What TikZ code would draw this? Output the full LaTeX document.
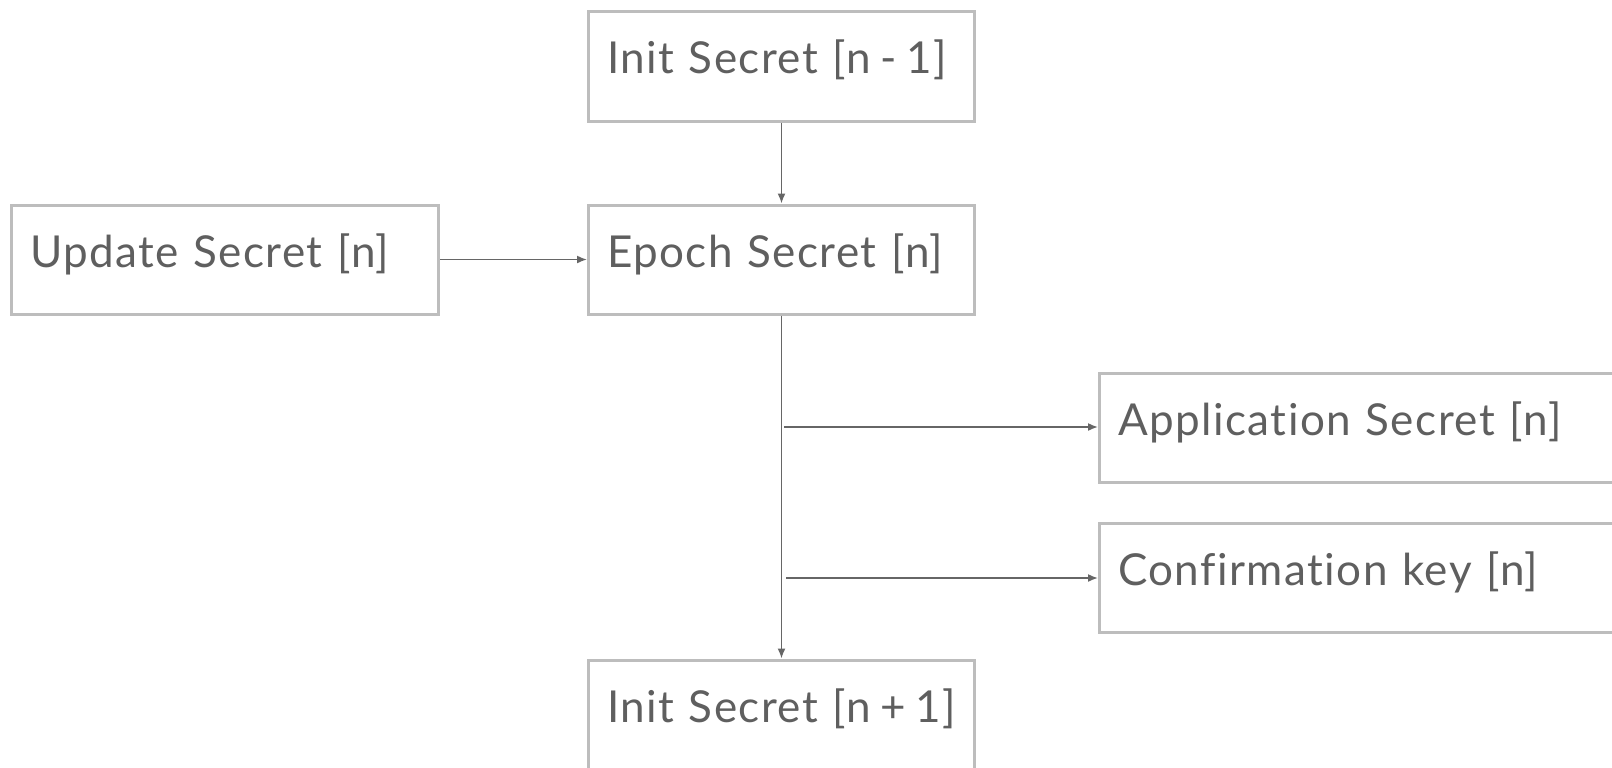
\documentclass[tikz,border=0pt]{standalone}
\usepackage{fontspec}
\setmainfont{Lato}[Ligatures=NoCommon, LetterSpace=3.3]
\usetikzlibrary{arrows.meta}
\definecolor{boxline}{HTML}{BDBDBD}
\definecolor{ink}{HTML}{666666}
\definecolor{txt}{HTML}{5F5F5F}
% tight operator spacing inside the index brackets
\newcommand{\opsp}[1]{\hspace{-5pt} #1 \hspace{-5pt}}

\begin{document}
\begin{tikzpicture}[x=1pt,y=-1pt,
  keybox/.style={draw=boxline, line width=3pt, inner sep=0pt, inner xsep=18.5pt,
    text height=62pt, text depth=47pt, anchor=base west, align=left,
    font=\fontsize{44}{48}\selectfont, text=txt},
  flow/.style={draw=ink, line width=1.6pt, -{Latex[length=10pt,width=8pt]}}]
\useasboundingbox (0,0) rectangle (1612,768);
\clip (0,0) rectangle (1612,768);
\fill[white] (0,0) rectangle (1612,768);

% key schedule boxes
\node[keybox, text width=349pt] (prev)    at (587,74)   {\mbox{Init Secret [n\opsp{-}1]}};
\node[keybox, text width=390pt] (update)  at (10,267)   {\mbox{Update Secret [n]}};
\node[keybox, text width=349pt] (epoch)   at (587,267)  {\mbox{Epoch Secret [n]}};
\node[keybox, text width=485pt] (app)     at (1098,435) {\mbox{Application Secret [n]}};
\node[keybox, text width=485pt] (confirm) at (1098,585) {\mbox{Confirmation key [n]}};
\node[keybox, text width=349pt] (next)    at (587,722)  {\mbox{Init Secret [n\opsp{+}1]}};

% taps on the epoch secret line
\coordinate (tapA) at (784,427);
\coordinate (tapC) at (786,578);

% derivations
\draw[flow] (prev) -- (epoch);
\draw[flow] (update.east) -- (epoch.west);
\draw[flow] (epoch) -- (next);
\draw[flow] (tapA) -- (tapA -| app.west);
\draw[flow] (tapC) -- (tapC -| confirm.west);
\end{tikzpicture}
\end{document}
